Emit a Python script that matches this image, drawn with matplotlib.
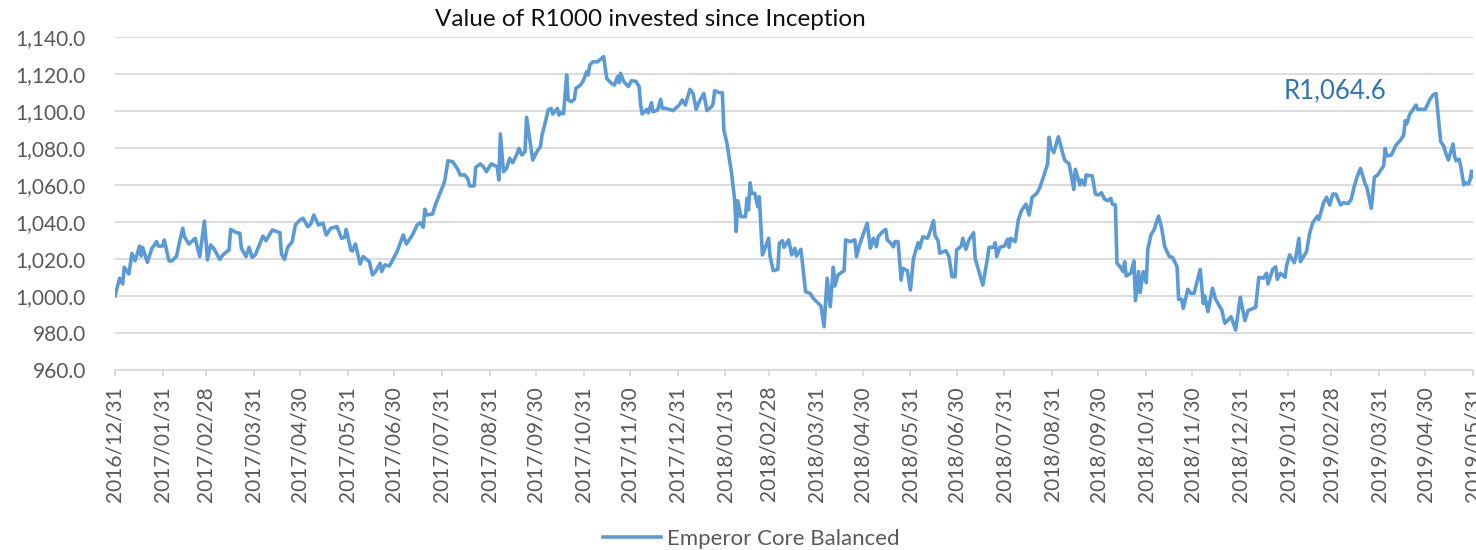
import pandas as pd
import numpy as np
import matplotlib
matplotlib.use('Agg')
import matplotlib.pyplot as plt
import matplotlib.dates as mdates
from matplotlib.ticker import FuncFormatter

# Dias desde el inicio (2016/12/31) y valor de R1000 invertidos
start = pd.Timestamp('2016-12-31')
days = [0, 3, 5, 6, 9, 11, 13, 16, 17, 18, 21, 24, 27, 28, 31, 32, 35, 37, 40, 42,
        44, 45, 48, 52, 55, 58, 60, 62, 64, 68, 70, 74, 75, 79, 81, 82, 85, 87, 89, 91,
        96, 98, 102, 107, 108, 110, 112, 115, 117, 120, 122, 125, 127, 129, 132, 135, 137, 140, 144, 147,
        149, 150, 153, 154, 156, 159, 161, 165, 167, 169, 172, 173, 175, 178, 183, 187, 189, 193, 196, 198,
        200, 201, 202, 206, 208, 211, 213, 214, 216, 219, 222, 224, 227, 229, 230, 233, 234, 237, 239, 241,
        244, 248, 249, 250, 252, 254, 256, 258, 261, 262, 264, 266, 267, 271, 274, 276, 277, 279, 281, 283,
        284, 287, 288, 290, 291, 293, 294, 296, 298, 299, 302, 304, 306, 307, 308, 310, 313, 315, 317, 319,
        322, 324, 326, 327, 328, 330, 333, 335, 338, 340, 341, 342, 345, 346, 348, 349, 352, 354, 355, 357,
        362, 366, 368, 370, 373, 375, 377, 379, 382, 384, 387, 388, 389, 392, 394, 395, 397, 400, 402, 403,
        404, 406, 409, 410, 411, 412, 413, 415, 417, 418, 420, 422, 424, 425, 427, 430, 431, 433, 434, 437,
        439, 441, 442, 445, 448, 451, 453, 458, 460, 462, 464, 466, 467, 469, 473, 474, 477, 480, 481, 483,
        486, 488, 490, 492, 494, 495, 498, 500, 501, 503, 505, 506, 508, 510, 511, 514, 516, 518, 521, 522,
        524, 527, 528, 531, 532, 534, 535, 539, 541, 543, 545, 546, 549, 550, 552, 554, 557, 558, 563, 566,
        567, 570, 571, 572, 574, 577, 579, 580, 581, 584, 586, 588, 591, 593, 595, 598, 600, 602, 605, 606,
        607, 609, 612, 616, 619, 622, 623, 626, 627, 629, 630, 634, 636, 638, 640, 642, 644, 646, 647, 649,
        650, 652, 654, 655, 656, 659, 661, 662, 664, 665, 667, 669, 670, 672, 674, 677, 679, 681, 684, 686,
        689, 690, 692, 693, 696, 698, 700, 704, 706, 707, 709, 712, 714, 718, 720, 724, 727, 730, 733, 735,
        740, 742, 745, 747, 748, 751, 753, 754, 756, 759, 760, 762, 765, 766, 768, 769, 773, 775, 777, 780,
        781, 784, 786, 788, 790, 792, 795, 797, 800, 802, 804, 806, 808, 811, 812, 815, 817, 819, 823, 824,
        825, 828, 831, 834, 836, 837, 838, 840, 844, 845, 850, 853, 855, 857, 860, 862, 863, 865, 868, 869,
        870, 872, 873, 875, 876, 878, 879, 880, 881]
values = [1000.0, 1009.6, 1006.5, 1015.5, 1011.9, 1023.0, 1019.0, 1027.0, 1021.6, 1026.3, 1018.2, 1025.8, 1029.4, 1027.0, 1027.0, 1030.3, 1019.0, 1019.0, 1021.6, 1029.9,
          1036.6, 1032.0, 1028.1, 1031.2, 1021.3, 1040.5, 1019.5, 1027.6, 1025.8, 1019.8, 1022.2, 1024.9, 1036.0, 1034.2, 1033.9, 1025.8, 1021.3, 1026.3, 1020.9, 1022.2,
          1032.4, 1029.9, 1035.7, 1034.2, 1022.7, 1019.8, 1026.3, 1029.4, 1038.4, 1041.1, 1042.0, 1037.5, 1038.9, 1043.8, 1038.4, 1039.3, 1033.0, 1036.6, 1037.5, 1031.2,
          1031.7, 1036.0, 1024.9, 1024.3, 1028.1, 1017.3, 1021.3, 1018.6, 1011.4, 1013.2, 1017.7, 1013.2, 1016.8, 1016.2, 1024.0, 1033.0, 1028.1, 1033.0, 1038.4, 1039.6,
          1037.2, 1046.9, 1043.8, 1044.3, 1049.7, 1055.8, 1060.0, 1062.7, 1073.1, 1072.6, 1069.0, 1065.4, 1065.4, 1063.1, 1059.5, 1059.5, 1069.6, 1071.4, 1069.9, 1067.2,
          1071.4, 1069.9, 1062.7, 1087.6, 1067.2, 1069.0, 1074.4, 1072.0, 1077.1, 1079.8, 1076.2, 1078.0, 1096.6, 1073.5, 1078.5, 1080.7, 1087.0, 1093.3, 1100.5, 1101.4,
          1098.4, 1101.4, 1097.8, 1099.6, 1098.5, 1119.5, 1106.0, 1105.0, 1106.3, 1112.3, 1114.0, 1116.8, 1121.2, 1119.5, 1124.9, 1126.6, 1126.6, 1127.9, 1129.4, 1117.6,
          1115.0, 1114.0, 1118.6, 1115.3, 1120.4, 1116.0, 1113.2, 1116.4, 1116.0, 1113.2, 1103.2, 1098.4, 1100.9, 1099.0, 1104.5, 1099.6, 1100.5, 1106.3, 1101.5, 1101.5,
          1100.2, 1103.2, 1106.0, 1103.2, 1111.7, 1109.5, 1100.9, 1105.0, 1109.5, 1100.2, 1102.3, 1103.8, 1111.0, 1109.9, 1109.9, 1089.7, 1082.5, 1066.3, 1051.9, 1034.8,
          1051.5, 1042.9, 1042.9, 1052.8, 1046.5, 1061.2, 1055.5, 1055.5, 1048.3, 1053.7, 1022.2, 1026.6, 1031.2, 1021.3, 1013.7, 1014.4, 1028.5, 1029.9, 1026.3, 1030.3,
          1022.2, 1025.8, 1021.6, 1025.2, 1002.3, 1001.4, 998.7, 994.6, 983.4, 1009.6, 994.2, 1015.5, 1005.4, 1011.4, 1013.7, 1030.3, 1029.4, 1030.3, 1021.3, 1027.6,
          1034.8, 1039.3, 1025.8, 1031.2, 1026.6, 1032.0, 1034.8, 1036.0, 1030.3, 1028.8, 1026.6, 1029.4, 1029.4, 1008.6, 1015.0, 1013.7, 1003.2, 1020.4, 1028.8, 1025.8,
          1032.0, 1031.2, 1033.0, 1040.7, 1032.7, 1029.8, 1023.1, 1024.5, 1021.3, 1010.4, 1010.4, 1024.9, 1027.0, 1031.2, 1025.2, 1030.3, 1034.2, 1020.4, 1005.9, 1020.4,
          1026.3, 1026.3, 1028.8, 1021.3, 1026.3, 1027.0, 1030.6, 1026.3, 1031.2, 1029.4, 1041.1, 1046.1, 1049.7, 1043.8, 1053.4, 1055.5, 1058.7, 1063.6, 1071.4, 1085.8,
          1080.7, 1077.5, 1086.1, 1073.5, 1071.4, 1057.6, 1068.5, 1060.0, 1062.7, 1060.0, 1065.4, 1064.9, 1055.1, 1054.6, 1055.8, 1052.3, 1051.5, 1052.8, 1049.7, 1049.2,
          1017.7, 1015.8, 1013.2, 1018.6, 1010.8, 1012.3, 1019.0, 997.5, 1013.2, 1001.8, 1013.2, 1007.2, 1025.2, 1033.0, 1035.7, 1043.2, 1036.6, 1026.6, 1021.3, 1020.9,
          1015.8, 998.2, 998.2, 993.3, 1003.6, 1001.4, 1001.4, 1014.4, 996.0, 1000.0, 991.5, 1004.2, 998.2, 992.4, 985.2, 988.8, 981.6, 999.3, 986.7, 992.1,
          993.9, 1010.1, 1009.6, 1012.3, 1006.5, 1014.4, 1015.8, 1009.0, 1012.3, 1010.1, 1016.2, 1022.2, 1018.0, 1020.9, 1031.2, 1018.6, 1024.0, 1033.9, 1039.6, 1043.2,
          1041.4, 1050.4, 1053.4, 1049.2, 1055.1, 1055.1, 1049.2, 1050.4, 1050.0, 1052.3, 1059.5, 1064.9, 1069.0, 1060.5, 1059.1, 1047.4, 1064.2, 1065.4, 1070.3, 1079.8,
          1075.7, 1076.2, 1081.6, 1084.3, 1087.0, 1094.8, 1093.0, 1098.4, 1103.2, 1100.9, 1100.9, 1106.3, 1108.6, 1109.5, 1083.4, 1081.1, 1078.0, 1073.5, 1082.2, 1075.7,
          1073.1, 1073.9, 1070.3, 1060.0, 1061.2, 1060.5, 1062.7, 1067.5, 1064.6]

dates = start + pd.to_timedelta(days, unit='D')
month_ends = pd.date_range('2016-12-31', '2019-05-31', freq='ME')

plt.rcParams['font.family'] = ['Lato', 'DejaVu Sans']
grey = '#595959'
blue = '#5B9BD5'

fig = plt.figure(figsize=(14.76, 5.5), dpi=100)
ax = fig.add_axes([0.0779, 0.3273, 0.9201, 0.6054])

ax.plot(dates, values, color=blue, linewidth=2.6, label='Emperor Core Balanced', zorder=3)

ax.set_ylim(960, 1140)
ax.set_yticks(np.arange(960, 1141, 20))
ax.yaxis.set_major_formatter(FuncFormatter(lambda v, p: f'{v:,.1f}'))
ax.set_xlim(month_ends[0], month_ends[-1])
ax.set_xticks(month_ends)
ax.xaxis.set_major_formatter(mdates.DateFormatter('%Y/%m/%d'))

ax.grid(axis='y', color='#d9d9d9', linewidth=1.3, zorder=0)
for s in ['top', 'right', 'left']:
    ax.spines[s].set_visible(False)
ax.spines['bottom'].set_color('#d9d9d9')
ax.spines['bottom'].set_linewidth(1.3)

ax.tick_params(axis='y', length=0, pad=21, labelsize=15, labelcolor=grey)
ax.tick_params(axis='x', length=4.5, width=1.3, color='#d9d9d9', pad=7,
               labelsize=15, labelcolor=grey, labelrotation=90)

fig.text(650 / 1476, 1 - 20 / 550, 'Value of R1000 invested since Inception',
         ha='center', va='center', fontsize=17.5, color='#111111')
fig.text(1335 / 1476, 1 - 91 / 550, 'R1,064.6', ha='center', va='center',
         fontsize=18.5, color='#2F75B5')

ax.legend(loc='lower center', bbox_to_anchor=(0.509, -0.035), bbox_transform=fig.transFigure,
          frameon=False, fontsize=16, handlelength=2.6, handletextpad=0.3, labelcolor=grey)

fig.savefig('out.png', dpi=100)
